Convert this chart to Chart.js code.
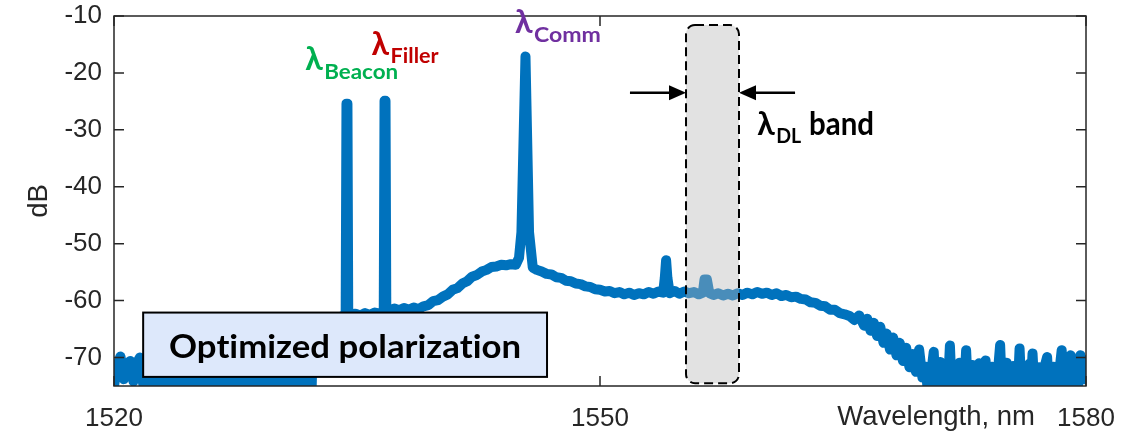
<!DOCTYPE html>
<html>
<head>
<meta charset="utf-8">
<script src="https://cdn.jsdelivr.net/npm/chart.js@4.4.0/dist/chart.umd.min.js"></script>
<style>
  html, body { margin: 0; padding: 0; background: #fff; }
  canvas { display: block; }
</style>
</head>
<body>
<canvas id="spectrum" width="1140" height="431"></canvas>
<script>
// spectrum (nm, dB)
var wavelength = [
  1520.0, 1520.2, 1520.4, 1520.6, 1520.8, 1521.0, 1521.2, 1521.4, 1521.6, 1521.8,
  1522.0, 1522.2, 1522.4, 1522.6, 1522.8, 1523.0, 1523.2, 1523.4, 1523.6, 1523.8,
  1524.0, 1524.2, 1524.4, 1524.6, 1524.8, 1525.0, 1525.2, 1525.4, 1525.6, 1525.8,
  1526.0, 1526.2, 1526.4, 1526.6, 1526.8, 1527.0, 1527.2, 1527.4, 1527.6, 1527.8,
  1528.0, 1528.2, 1528.4, 1528.6, 1528.8, 1529.0, 1529.2, 1529.4, 1529.6, 1529.8,
  1530.0, 1530.2, 1530.4, 1530.6, 1530.8, 1531.0, 1531.2, 1531.4, 1531.6, 1531.8,
  1532.0, 1532.2,
  1532.3, 1532.6, 1532.9, 1533.2, 1533.5, 1533.8, 1534.1, 1534.3,
  1534.35, 1534.41,
  1534.46, 1534.65, 1534.9, 1535.2, 1535.5, 1535.8, 1536.1, 1536.4, 1536.65,
  1536.7, 1536.76,
  1536.81, 1537.0, 1537.3, 1537.6, 1537.9, 1538.2, 1538.5, 1538.8, 1539.1, 1539.4, 1539.7,
  1540.0, 1540.3, 1540.6, 1540.9, 1541.2, 1541.5, 1541.8, 1542.1, 1542.4, 1542.7,
  1543.0, 1543.3, 1543.6, 1543.9, 1544.2, 1544.5, 1544.8, 1545.0,
  1545.15, 1545.4, 1545.62, 1545.85,
  1546.1, 1546.4, 1546.7, 1547.0, 1547.3, 1547.6, 1547.9, 1548.2, 1548.5, 1548.8,
  1549.1, 1549.4, 1549.7, 1550.0, 1550.3, 1550.6, 1550.9, 1551.2, 1551.5, 1551.8,
  1552.1, 1552.4, 1552.7, 1553.0, 1553.3, 1553.6, 1553.9,
  1554.0, 1554.08, 1554.16,
  1554.3, 1554.6, 1554.9, 1555.2, 1555.5, 1555.8, 1556.1, 1556.35,
  1556.45, 1556.6,
  1556.75, 1557.0, 1557.3, 1557.6, 1557.9, 1558.2, 1558.5, 1558.8, 1559.1, 1559.4,
  1559.7, 1560.0, 1560.3, 1560.6, 1560.9, 1561.2, 1561.5, 1561.8, 1562.1, 1562.4,
  1562.7, 1563.0, 1563.3, 1563.6, 1563.9, 1564.2, 1564.5, 1564.8, 1565.1, 1565.4,
  1565.7, 1566.0, 1566.3, 1566.5, 1566.7, 1566.9, 1567.1, 1567.3, 1567.5, 1567.7,
  1567.9, 1568.1, 1568.3, 1568.5, 1568.7, 1568.9, 1569.1, 1569.3, 1569.5, 1569.7,
  1569.9,
  1570.0, 1570.1, 1570.2, 1570.3, 1570.4, 1570.5, 1570.6, 1570.7, 1570.8, 1570.9,
  1571.0, 1571.1, 1571.2, 1571.3, 1571.4, 1571.5, 1571.6, 1571.7, 1571.8, 1571.9,
  1572.0, 1572.1, 1572.2, 1572.3, 1572.4, 1572.5, 1572.6, 1572.7, 1572.8, 1572.9,
  1573.0, 1573.1, 1573.2, 1573.3, 1573.4, 1573.5, 1573.6, 1573.7, 1573.8, 1573.9,
  1574.0, 1574.1, 1574.2, 1574.3, 1574.4, 1574.5, 1574.6, 1574.7, 1574.8, 1574.9,
  1575.0, 1575.1, 1575.2, 1575.3, 1575.4, 1575.5, 1575.6, 1575.7, 1575.8, 1575.9,
  1576.0, 1576.1, 1576.2, 1576.3, 1576.4, 1576.5, 1576.6, 1576.7, 1576.8, 1576.9,
  1577.0, 1577.1, 1577.2, 1577.3, 1577.4, 1577.5, 1577.6, 1577.7, 1577.8, 1577.9,
  1578.0, 1578.1, 1578.2, 1578.3, 1578.4, 1578.5, 1578.6, 1578.7, 1578.8, 1578.9,
  1579.0, 1579.05, 1579.1, 1579.2, 1579.3, 1579.4, 1579.5, 1579.6, 1579.65, 1579.7,
  1579.8, 1579.9, 1580.0
];
var power = [
  -75.0, -71.5, -69.8, -73.8, -71.2, -70.6, -74.2, -71.0, -70.0, -74.6,
  -72.4, -75.3, -71.9, -74.8, -72.8, -75.4, -73.1, -74.9, -72.2, -75.2,
  -73.6, -74.7, -72.5, -75.5, -73.0, -74.8, -72.7, -75.3, -76.0, -73.4,
  -75.1, -72.9, -74.6, -73.2, -75.4, -72.6, -74.9, -73.5, -75.2, -72.8,
  -74.5, -73.0, -75.3, -72.4, -74.8, -73.3, -75.1, -72.9, -74.7, -73.6,
  -75.4, -72.7, -74.9, -73.1, -75.2, -72.6, -74.8, -73.4, -75.0, -73.0,
  -74.6, -75.6,
  -64.0, -63.6, -63.1, -63.4, -62.9, -63.2, -62.7, -62.8,
  -25.4, -25.4,
  -62.6, -62.4, -62.3, -62.6, -62.2, -62.5, -62.1, -62.3, -62.2,
  -24.9, -24.9,
  -61.9, -61.8, -61.4, -61.7, -61.3, -61.6, -61.2, -61.5, -61.0, -60.8, -60.1,
  -59.9, -59.3, -58.9, -58.1, -57.8, -57.0, -56.6, -55.8, -55.5, -54.9,
  -54.6, -54.1, -54.0, -53.7, -53.8, -53.6, -53.7, -52.5,
  -48.0, -17.1, -48.0, -54.2,
  -54.6, -54.9, -55.3, -55.4, -55.9, -56.0, -56.5, -56.6, -57.0, -57.1,
  -57.5, -57.6, -58.0, -58.1, -58.4, -58.3, -58.7, -58.5, -58.9, -58.6,
  -59.0, -58.7, -58.9, -58.5, -58.8, -58.4, -58.6,
  -56.0, -52.9, -56.0,
  -58.7, -58.3, -58.8, -58.4, -58.7, -58.5, -58.9, -58.6,
  -56.3, -56.3,
  -58.7, -59.0, -58.7, -59.1, -58.8, -59.1, -58.7, -59.0, -58.6, -58.9,
  -58.5, -58.8, -58.6, -59.0, -58.7, -59.2, -59.0, -59.4, -59.3, -59.7,
  -59.8, -60.3, -60.4, -60.9, -61.0, -61.6, -61.6, -62.2, -62.4, -62.7,
  -63.4, -62.6, -64.4, -63.2, -65.3, -63.9, -66.2, -64.6, -67.4, -65.8,
  -68.6, -66.5, -69.6, -67.4, -70.6, -68.3, -71.7, -69.4, -72.5, -68.6,
  -73.5,
  -73.5, -71.6, -74.8, -72.0, -75.2, -71.4, -69.0, -74.9, -72.3, -75.3,
  -70.8, -74.6, -72.0, -75.4, -71.2, -73.9, -67.9, -74.8, -71.9, -75.1,
  -72.4, -74.7, -70.9, -75.3, -71.7, -74.4, -68.7, -75.0, -72.1, -75.4,
  -71.3, -74.8, -72.5, -75.2, -71.0, -74.6, -72.2, -75.0, -70.5, -75.3,
  -72.0, -74.9, -71.6, -75.4, -72.3, -74.7, -71.2, -67.8, -75.1, -72.1,
  -75.3, -70.9, -74.8, -72.4, -75.5, -71.5, -74.6, -72.0, -75.0, -68.4,
  -74.9, -71.8, -75.3, -72.2, -74.7, -71.1, -75.2, -69.3, -74.8, -72.0,
  -75.4, -71.7, -74.9, -72.3, -75.1, -71.0, -69.9, -75.3, -72.1, -74.8,
  -71.6, -75.5, -72.4, -74.6, -71.3, -68.7, -75.0, -72.0, -75.4, -71.8,
  -74.7, -69.6, -75.6, -72.2, -74.9, -71.4, -75.2, -71.9, -69.6, -71.0,
  -70.3, -73.8, -71.5
];
var xTicks = [1520, 1550, 1580];
var yTicks = [-70, -60, -50, -40, -30, -20, -10];

// annotations (data units): peak labels, DL band, text box
var peakLabels = [
  { sub: 'Beacon', color: '#00b050', x: 1531.8, y: -19.5, subWidth: 74 },
  { sub: 'Filler', color: '#c00000', x: 1535.9, y: -16.85, subWidth: 48 },
  { sub: 'Comm', color: '#7030a0', x: 1544.75, y: -13.0, subWidth: 67 },
  { sub: 'DL', color: '#000000', x: 1559.7, y: -30.9, subWidth: 25 }
];
var dlBand = { x0: 1555.31, x1: 1558.58, y0: -74.5, y1: -11.6, arrowY: -23.5, arrowFrom: [1551.85, 1562.04] };
var noteBox = { x0: 1521.8, x1: 1546.73, y0: -73.4, y1: -62.1, text: 'Optimized polarization', textX: 1523.4, textY: -70.1 };

var AXIS = '#262626';
var TXT_FONT = '"Lato", "Open Sans", sans-serif';

// draw bold text squeezed to a given pixel width
function fitText(ctx, str, x, y, size, color, width) {
  ctx.save();
  ctx.font = 'bold ' + size + 'px ' + TXT_FONT;
  ctx.letterSpacing = '0.01px'; // keeps Lato from joining "ti"
  var w = ctx.measureText(str).width;
  ctx.translate(x, y);
  ctx.scale(width / w, 1);
  ctx.fillStyle = color;
  ctx.textBaseline = 'alphabetic';
  ctx.textAlign = 'left';
  ctx.fillText(str, 0, 0);
  ctx.restore();
}

function arrow(ctx, x0, x1, y) {
  var dir = x1 > x0 ? 1 : -1;
  ctx.strokeStyle = '#000';
  ctx.fillStyle = '#000';
  ctx.lineWidth = 2.5;
  ctx.beginPath();
  ctx.moveTo(x0, y);
  ctx.lineTo(x1 - dir * 14, y);
  ctx.stroke();
  ctx.beginPath();
  ctx.moveTo(x1, y);
  ctx.lineTo(x1 - dir * 17, y - 7.5);
  ctx.lineTo(x1 - dir * 17, y + 7.5);
  ctx.closePath();
  ctx.fill();
}

var overlays = {
  id: 'overlays',
  afterDatasetsDraw: function(chart) {
    var ctx = chart.ctx, ca = chart.chartArea;
    var xs = chart.scales.x, ys = chart.scales.y;
    var px = function(v) { return xs.getPixelForValue(v); };
    var py = function(v) { return ys.getPixelForValue(v); };

    // DL band, translucent over the trace
    var bx0 = px(dlBand.x0), bx1 = px(dlBand.x1), by0 = py(dlBand.y1), by1 = py(dlBand.y0);
    ctx.save();
    ctx.beginPath();
    ctx.roundRect(bx0, by0, bx1 - bx0, by1 - by0, 9);
    ctx.fillStyle = 'rgba(183,183,183,0.4)';
    ctx.fill();
    ctx.setLineDash([9, 5]);
    ctx.lineWidth = 2;
    ctx.strokeStyle = '#000';
    ctx.stroke();
    ctx.restore();

    // axes box with inward ticks
    ctx.save();
    ctx.strokeStyle = AXIS;
    ctx.lineWidth = 1.5;
    ctx.strokeRect(ca.left, ca.top, ca.right - ca.left, ca.bottom - ca.top);
    ctx.beginPath();
    yTicks.forEach(function(v) {
      var y = py(v);
      ctx.moveTo(ca.left, y); ctx.lineTo(ca.left + 10, y);
      ctx.moveTo(ca.right, y); ctx.lineTo(ca.right - 10, y);
    });
    xTicks.forEach(function(v) {
      var x = px(v);
      ctx.moveTo(x, ca.bottom); ctx.lineTo(x, ca.bottom - 10);
      ctx.moveTo(x, ca.top); ctx.lineTo(x, ca.top + 10);
    });
    ctx.stroke();
    ctx.restore();

    // text box
    var tx0 = px(noteBox.x0), tx1 = px(noteBox.x1), ty0 = py(noteBox.y1), ty1 = py(noteBox.y0);
    ctx.save();
    ctx.fillStyle = '#dde8fb';
    ctx.fillRect(tx0, ty0, tx1 - tx0, ty1 - ty0);
    ctx.lineWidth = 2;
    ctx.strokeStyle = '#000';
    ctx.strokeRect(tx0, ty0, tx1 - tx0, ty1 - ty0);
    ctx.restore();
    fitText(ctx, noteBox.text, px(noteBox.textX), py(noteBox.textY), 32, '#000', 352);

    // arrows into the band
    var ay = py(dlBand.arrowY);
    arrow(ctx, px(dlBand.arrowFrom[0]), bx0, ay);
    arrow(ctx, px(dlBand.arrowFrom[1]), bx1, ay);

    // lambda labels
    peakLabels.forEach(function(l) {
      var x = px(l.x), y = py(l.y);
      fitText(ctx, 'λ', x, y, 33, l.color, 17.5);
      fitText(ctx, l.sub, x + 19, y + 8.5, 21, l.color, l.subWidth);
    });
    fitText(ctx, 'band', px(1562.9), py(-30.9), 33, '#000', 65);

    // axis titles
    ctx.save();
    ctx.fillStyle = AXIS;
    ctx.font = '27.5px "Liberation Sans", Arial, sans-serif';
    ctx.textAlign = 'right';
    ctx.textBaseline = 'alphabetic';
    ctx.fillText('Wavelength, nm', px(1576.85), 425);
    ctx.translate(47, 201);
    ctx.rotate(-Math.PI / 2);
    ctx.textAlign = 'center';
    ctx.fillText('dB', 0, 0);
    ctx.restore();
  }
};

new Chart('spectrum', {
  type: 'line',
  data: {
    datasets: [{
      label: 'spectrum',
      data: wavelength.map(function(w, i) { return { x: w, y: power[i] }; }),
      borderColor: '#0072bd',
      borderWidth: 10,
      borderJoinStyle: 'round',
      borderCapStyle: 'round',
      pointRadius: 0,
      tension: 0,
      fill: false
    }]
  },
  options: {
    responsive: false,
    animation: false,
    devicePixelRatio: 1,
    layout: { padding: { top: 16, right: 54, left: 0, bottom: 0 } },
    plugins: { legend: { display: false }, tooltip: { enabled: false } },
    scales: {
      x: {
        type: 'linear',
        min: 1520,
        max: 1580,
        afterBuildTicks: function(s) { s.ticks = xTicks.map(function(v) { return { value: v }; }); },
        afterFit: function(s) { s.height = 45; s.paddingLeft = 0; s.paddingRight = 0; },
        grid: { display: false, drawTicks: false },
        border: { display: false },
        ticks: {
          color: AXIS,
          padding: 17,
          maxRotation: 0,
          font: { family: '"Liberation Sans", Arial, sans-serif', size: 26 },
          callback: function(v) { return String(v); }
        }
      },
      y: {
        min: -75,
        max: -10,
        afterBuildTicks: function(s) { s.ticks = yTicks.map(function(v) { return { value: v }; }); },
        afterFit: function(s) { s.width = 114; s.paddingTop = 0; s.paddingBottom = 0; },
        grid: { display: false, drawTicks: false },
        border: { display: false },
        ticks: {
          color: AXIS,
          padding: 12,
          font: { family: '"Liberation Sans", Arial, sans-serif', size: 26 },
          callback: function(v) { return String(v); }
        }
      }
    }
  },
  plugins: [overlays]
});
</script>
</body>
</html>
